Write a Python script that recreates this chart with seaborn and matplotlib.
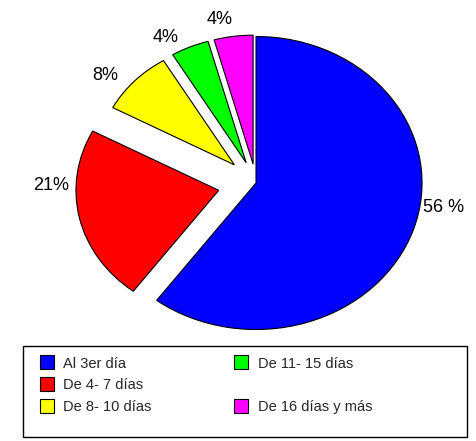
import matplotlib.pyplot as plt
from matplotlib.lines import Line2D
from matplotlib.patches import Rectangle
import seaborn as sns

# data
categories = ['Al 3er día', 'De 4- 7 días', 'De 8- 10 días', 'De 11- 15 días', 'De 16 días y más']
values = [56, 21, 8, 4, 4]
pct_labels = ['56 %', '21%', '8%', '4%', '4%']
colors = ['#0000FF', '#FF0000', '#FFFF00', '#00FF00', '#FF00FF']

sns.set_style('white')
plt.rcParams['font.family'] = ['Liberation Sans', 'DejaVu Sans']

fig = plt.figure(figsize=(4.77, 4.41), dpi=100)
ax = fig.add_axes([0, 0, 1, 1])

# pull-out of each slice and shrink of the pulled slices
explode = [0, 0.23, 0.18, 0.15, 0.13]
shrink = [1.0, 0.86, 0.83, 0.86, 0.88]

wedges, texts = ax.pie(
    values, labels=pct_labels, colors=colors, explode=explode,
    startangle=90, counterclock=False,
    wedgeprops=dict(edgecolor='black', linewidth=0.8),
    textprops=dict(fontsize=13, color='black'),
)
for w, s in zip(wedges, shrink):
    w.set_radius(s)

# label placement
label_pos = [(1.127, -0.164), (-1.235, -0.014), (-0.91, 0.737), (-0.542, 0.99), (-0.217, 1.113)]
for t, p in zip(texts, label_pos):
    t.set_position(p)
    t.set_ha('center')
    t.set_va('center')

ax.set_aspect('auto')
ax.set_xlim(-1.542, 1.331)
ax.set_ylim(-1.761, 1.249)
ax.axis('off')

# legend in a box under the pie
handles = [Line2D([], [], linestyle='none', marker='s', markersize=9.5,
                  markerfacecolor=c, markeredgecolor='black', markeredgewidth=0.8)
           for c in colors]
labels = list(categories)
# empty slot so the last entry sits on the third row
handles.insert(4, Line2D([], [], linestyle='none'))
labels.insert(4, ' ')
fig.legend(handles, labels, ncol=2, frameon=False, fontsize=10.5,
           loc='upper left', bbox_to_anchor=(0.084, 0.1914),
           borderaxespad=0, borderpad=0, handlelength=1.0, handletextpad=0.6,
           labelspacing=0.52, columnspacing=5.65)
fig.add_artist(Rectangle((23 / 477, 4 / 441), 444 / 477, 91 / 441,
                         transform=fig.transFigure, fill=False,
                         edgecolor='black', linewidth=1))

fig.savefig('out.png', dpi=100)
